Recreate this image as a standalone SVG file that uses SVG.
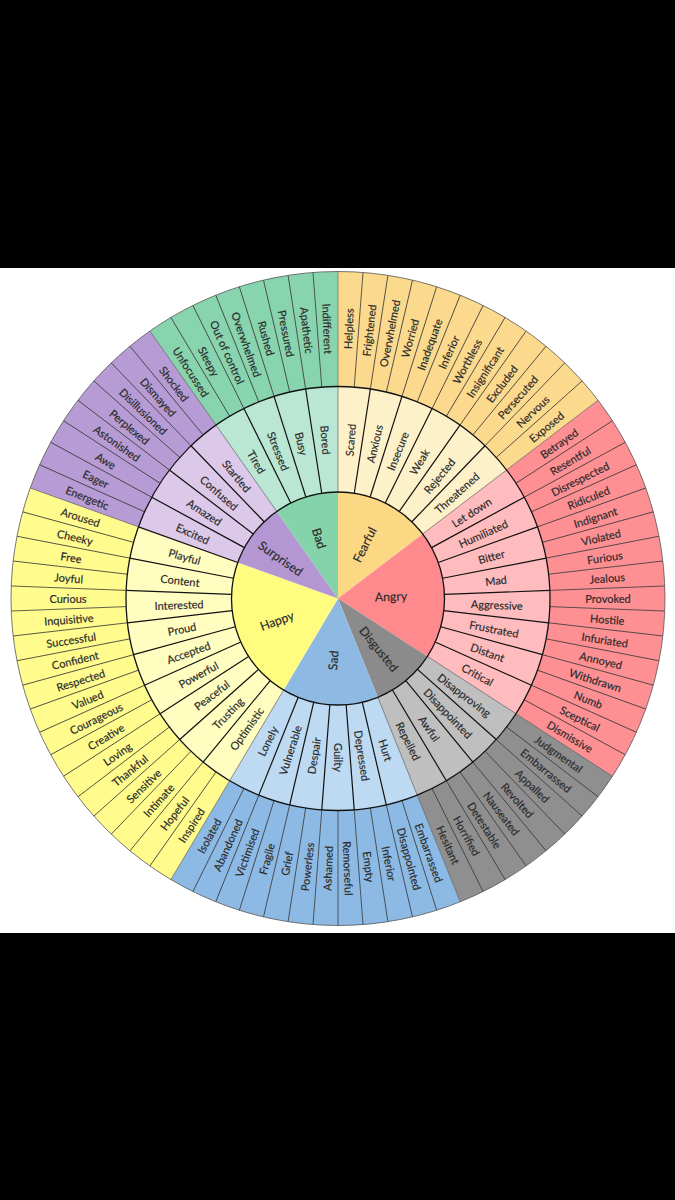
<svg xmlns="http://www.w3.org/2000/svg" width="675" height="1200" viewBox="0 0 675 1200">
<style>
text{font-family:"Lato","Liberation Sans",sans-serif;font-size:11px;fill:#2b2b2b;stroke:#2b2b2b;stroke-width:.18;text-anchor:middle;dominant-baseline:central}
text.h{font-size:12.3px}
.o{stroke:#3c3c3c;stroke-width:.8}
.m{stroke:#111;stroke-width:1.2}
.b{stroke:#555;stroke-width:.6}
</style>
<rect width="675" height="1200" fill="#000"/>
<rect y="268" width="675" height="665" fill="#fff"/>

<g id="fearful">
<path d="M338 386.5L338 271.5A327 327 0 0 1 598.06 400.24L506.6 469.96A212 212 0 0 0 338 386.5Z" fill="#fbd98d"/>
<path d="M338 492L338 386.5A212 212 0 0 1 506.6 469.96L422.7 533.93A106.5 106.5 0 0 0 338 492Z" fill="#fdf1ca"/>
<path d="M338 598.5L338 492A106.5 106.5 0 0 1 422.7 533.93Z" fill="#fcd885"/>
<g transform="translate(338 598.5)">
<text class="h" transform="rotate(26.3)translate(0 -60)rotate(-90)">Fearful</text>
<text transform="rotate(4.39)translate(0 -159)rotate(-90)">Scared</text>
<text transform="rotate(13.171)translate(0 -159)rotate(-90)">Anxious</text>
<text transform="rotate(21.951)translate(0 -159)rotate(-90)">Insecure</text>
<text transform="rotate(30.732)translate(0 -159)rotate(-90)">Weak</text>
<text transform="rotate(39.512)translate(0 -159)rotate(-90)">Rejected</text>
<text transform="rotate(48.293)translate(0 -159)rotate(-90)">Threatened</text>
<text transform="rotate(2.195)translate(0 -270)rotate(-90)">Helpless</text>
<text transform="rotate(6.585)translate(0 -270)rotate(-90)">Frightened</text>
<text transform="rotate(10.976)translate(0 -270)rotate(-90)">Overwhelmed</text>
<text transform="rotate(15.366)translate(0 -270)rotate(-90)">Worried</text>
<text transform="rotate(19.756)translate(0 -270)rotate(-90)">Inadequate</text>
<text transform="rotate(24.146)translate(0 -270)rotate(-90)">Inferior</text>
<text transform="rotate(28.537)translate(0 -270)rotate(-90)">Worthless</text>
<text transform="rotate(32.927)translate(0 -270)rotate(-90)">Insignificant</text>
<text transform="rotate(37.317)translate(0 -270)rotate(-90)">Excluded</text>
<text transform="rotate(41.707)translate(0 -270)rotate(-90)">Persecuted</text>
<text transform="rotate(46.098)translate(0 -270)rotate(-90)">Nervous</text>
<text transform="rotate(50.488)translate(0 -270)rotate(-90)">Exposed</text>
</g>
</g>

<g id="angry">
<path d="M506.6 469.96L598.06 400.24A327 327 0 0 1 612.48 776.22L515.95 713.72A212 212 0 0 0 506.6 469.96Z" fill="#fe8f93"/>
<path d="M422.7 533.93L506.6 469.96A212 212 0 0 1 515.95 713.72L427.4 656.38A106.5 106.5 0 0 0 422.7 533.93Z" fill="#ffbcbf"/>
<path d="M338 598.5L422.7 533.93A106.5 106.5 0 0 1 427.4 656.38Z" fill="#ff8a8e"/>
<g transform="translate(338 598.5)">
<text class="h" transform="rotate(87.8)translate(0 -53)rotate(-90)">Angry</text>
<text transform="rotate(57.073)translate(0 -159)rotate(-90)">Let down</text>
<text transform="rotate(65.854)translate(0 -159)rotate(-90)">Humiliated</text>
<text transform="rotate(74.634)translate(0 -159)rotate(-90)">Bitter</text>
<text transform="rotate(83.415)translate(0 -159)rotate(-90)">Mad</text>
<text transform="rotate(92.195)translate(0 -159)rotate(-90)">Aggressive</text>
<text transform="rotate(100.976)translate(0 -159)rotate(-90)">Frustrated</text>
<text transform="rotate(109.756)translate(0 -159)rotate(-90)">Distant</text>
<text transform="rotate(118.537)translate(0 -159)rotate(-90)">Critical</text>
<text transform="rotate(54.878)translate(0 -270)rotate(-90)">Betrayed</text>
<text transform="rotate(59.268)translate(0 -270)rotate(-90)">Resentful</text>
<text transform="rotate(63.659)translate(0 -270)rotate(-90)">Disrespected</text>
<text transform="rotate(68.049)translate(0 -270)rotate(-90)">Ridiculed</text>
<text transform="rotate(72.439)translate(0 -270)rotate(-90)">Indignant</text>
<text transform="rotate(76.829)translate(0 -270)rotate(-90)">Violated</text>
<text transform="rotate(81.22)translate(0 -270)rotate(-90)">Furious</text>
<text transform="rotate(85.61)translate(0 -270)rotate(-90)">Jealous</text>
<text transform="rotate(90)translate(0 -270)rotate(-90)">Provoked</text>
<text transform="rotate(94.39)translate(0 -270)rotate(-90)">Hostile</text>
<text transform="rotate(98.78)translate(0 -270)rotate(-90)">Infuriated</text>
<text transform="rotate(103.171)translate(0 -270)rotate(-90)">Annoyed</text>
<text transform="rotate(107.561)translate(0 -270)rotate(-90)">Withdrawn</text>
<text transform="rotate(111.951)translate(0 -270)rotate(-90)">Numb</text>
<text transform="rotate(116.341)translate(0 -270)rotate(-90)">Sceptical</text>
<text transform="rotate(120.732)translate(0 -270)rotate(-90)">Dismissive</text>
</g>
</g>

<g id="disgusted">
<path d="M515.95 713.72L612.48 776.22A327 327 0 0 1 460.23 901.79L417.25 795.13A212 212 0 0 0 515.95 713.72Z" fill="#8f8f8f"/>
<path d="M427.4 656.38L515.95 713.72A212 212 0 0 1 417.25 795.13L377.81 697.28A106.5 106.5 0 0 0 427.4 656.38Z" fill="#c0bfbf"/>
<path d="M338 598.5L427.4 656.38A106.5 106.5 0 0 1 377.81 697.28Z" fill="#8b8b8b"/>
<g transform="translate(338 598.5)">
<text class="h" transform="rotate(141)translate(0 -65)rotate(-90)">Disgusted</text>
<text transform="rotate(127.317)translate(0 -159)rotate(-90)">Disapproving</text>
<text transform="rotate(136.098)translate(0 -159)rotate(-90)">Disappointed</text>
<text transform="rotate(144.878)translate(0 -159)rotate(-90)">Awful</text>
<text transform="rotate(153.659)translate(0 -159)rotate(-90)">Repelled</text>
<text transform="rotate(125.122)translate(0 -270)rotate(-90)">Judgmental</text>
<text transform="rotate(129.512)translate(0 -270)rotate(-90)">Embarrassed</text>
<text transform="rotate(133.902)translate(0 -270)rotate(-90)">Appalled</text>
<text transform="rotate(138.293)translate(0 -270)rotate(-90)">Revolted</text>
<text transform="rotate(142.683)translate(0 -270)rotate(-90)">Nauseated</text>
<text transform="rotate(147.073)translate(0 -270)rotate(-90)">Detestable</text>
<text transform="rotate(151.463)translate(0 -270)rotate(-90)">Horrified</text>
<text transform="rotate(155.854)translate(0 -270)rotate(-90)">Hesitant</text>
</g>
</g>

<g id="sad">
<path d="M417.25 795.13L460.23 901.79A327 327 0 0 1 170.9 879.56L229.67 780.71A212 212 0 0 0 417.25 795.13Z" fill="#8dbae4"/>
<path d="M377.81 697.28L417.25 795.13A212 212 0 0 1 229.67 780.71L283.58 690.04A106.5 106.5 0 0 0 377.81 697.28Z" fill="#bedaf2"/>
<path d="M338 598.5L377.81 697.28A106.5 106.5 0 0 1 283.58 690.04Z" fill="#8db9e3"/>
<g transform="translate(338 598.5)">
<text class="h" transform="rotate(184.4)translate(0 -62)rotate(90)">Sad</text>
<text transform="rotate(162.439)translate(0 -159)rotate(-90)">Hurt</text>
<text transform="rotate(171.22)translate(0 -159)rotate(-90)">Depressed</text>
<text transform="rotate(180)translate(0 -159)rotate(-90)">Guilty</text>
<text transform="rotate(188.78)translate(0 -159)rotate(90)">Despair</text>
<text transform="rotate(197.561)translate(0 -159)rotate(90)">Vulnerable</text>
<text transform="rotate(206.341)translate(0 -159)rotate(90)">Lonely</text>
<text transform="rotate(160.244)translate(0 -270)rotate(-90)">Embarrassed</text>
<text transform="rotate(164.634)translate(0 -270)rotate(-90)">Disappointed</text>
<text transform="rotate(169.024)translate(0 -270)rotate(-90)">Inferior</text>
<text transform="rotate(173.415)translate(0 -270)rotate(-90)">Empty</text>
<text transform="rotate(177.805)translate(0 -270)rotate(-90)">Remorseful</text>
<text transform="rotate(182.195)translate(0 -270)rotate(90)">Ashamed</text>
<text transform="rotate(186.585)translate(0 -270)rotate(90)">Powerless</text>
<text transform="rotate(190.976)translate(0 -270)rotate(90)">Grief</text>
<text transform="rotate(195.366)translate(0 -270)rotate(90)">Fragile</text>
<text transform="rotate(199.756)translate(0 -270)rotate(90)">Victimised</text>
<text transform="rotate(204.146)translate(0 -270)rotate(90)">Abandoned</text>
<text transform="rotate(208.537)translate(0 -270)rotate(90)">Isolated</text>
</g>
</g>

<g id="happy">
<path d="M229.67 780.71L170.9 879.56A327 327 0 0 1 30.24 487.97L138.47 526.84A212 212 0 0 0 229.67 780.71Z" fill="#fffb8c"/>
<path d="M283.58 690.04L229.67 780.71A212 212 0 0 1 138.47 526.84L237.76 562.5A106.5 106.5 0 0 0 283.58 690.04Z" fill="#fffdc0"/>
<path d="M338 598.5L283.58 690.04A106.5 106.5 0 0 1 237.76 562.5Z" fill="#fffc80"/>
<g transform="translate(338 598.5)">
<text class="h" transform="rotate(250)translate(0 -65)rotate(90)">Happy</text>
<text transform="rotate(215.122)translate(0 -159)rotate(90)">Optimistic</text>
<text transform="rotate(223.902)translate(0 -159)rotate(90)">Trusting</text>
<text transform="rotate(232.683)translate(0 -159)rotate(90)">Peaceful</text>
<text transform="rotate(241.463)translate(0 -159)rotate(90)">Powerful</text>
<text transform="rotate(250.244)translate(0 -159)rotate(90)">Accepted</text>
<text transform="rotate(259.024)translate(0 -159)rotate(90)">Proud</text>
<text transform="rotate(267.805)translate(0 -159)rotate(90)">Interested</text>
<text transform="rotate(276.585)translate(0 -159)rotate(90)">Content</text>
<text transform="rotate(285.366)translate(0 -159)rotate(90)">Playful</text>
<text transform="rotate(212.927)translate(0 -270)rotate(90)">Inspired</text>
<text transform="rotate(217.317)translate(0 -270)rotate(90)">Hopeful</text>
<text transform="rotate(221.707)translate(0 -270)rotate(90)">Intimate</text>
<text transform="rotate(226.098)translate(0 -270)rotate(90)">Sensitive</text>
<text transform="rotate(230.488)translate(0 -270)rotate(90)">Thankful</text>
<text transform="rotate(234.878)translate(0 -270)rotate(90)">Loving</text>
<text transform="rotate(239.268)translate(0 -270)rotate(90)">Creative</text>
<text transform="rotate(243.659)translate(0 -270)rotate(90)">Courageous</text>
<text transform="rotate(248.049)translate(0 -270)rotate(90)">Valued</text>
<text transform="rotate(252.439)translate(0 -270)rotate(90)">Respected</text>
<text transform="rotate(256.829)translate(0 -270)rotate(90)">Confident</text>
<text transform="rotate(261.22)translate(0 -270)rotate(90)">Successful</text>
<text transform="rotate(265.61)translate(0 -270)rotate(90)">Inquisitive</text>
<text transform="rotate(270)translate(0 -270)rotate(90)">Curious</text>
<text transform="rotate(274.39)translate(0 -270)rotate(90)">Joyful</text>
<text transform="rotate(278.78)translate(0 -270)rotate(90)">Free</text>
<text transform="rotate(283.171)translate(0 -270)rotate(90)">Cheeky</text>
<text transform="rotate(287.561)translate(0 -270)rotate(90)">Aroused</text>
</g>
</g>

<g id="surprised">
<path d="M138.47 526.84L30.24 487.97A327 327 0 0 1 149.88 331.01L216.04 425.08A212 212 0 0 0 138.47 526.84Z" fill="#b69bd4"/>
<path d="M237.76 562.5L138.47 526.84A212 212 0 0 1 216.04 425.08L276.73 511.38A106.5 106.5 0 0 0 237.76 562.5Z" fill="#dcc9e9"/>
<path d="M338 598.5L237.76 562.5A106.5 106.5 0 0 1 276.73 511.38Z" fill="#b497d2"/>
<g transform="translate(338 598.5)">
<text class="h" transform="rotate(305)translate(0 -70)rotate(90)">Surprised</text>
<text transform="rotate(294.146)translate(0 -159)rotate(90)">Excited</text>
<text transform="rotate(302.927)translate(0 -159)rotate(90)">Amazed</text>
<text transform="rotate(311.707)translate(0 -159)rotate(90)">Confused</text>
<text transform="rotate(320.488)translate(0 -159)rotate(90)">Startled</text>
<text transform="rotate(291.951)translate(0 -270)rotate(90)">Energetic</text>
<text transform="rotate(296.341)translate(0 -270)rotate(90)">Eager</text>
<text transform="rotate(300.732)translate(0 -270)rotate(90)">Awe</text>
<text transform="rotate(305.122)translate(0 -270)rotate(90)">Astonished</text>
<text transform="rotate(309.512)translate(0 -270)rotate(90)">Perplexed</text>
<text transform="rotate(313.902)translate(0 -270)rotate(90)">Disillusioned</text>
<text transform="rotate(318.293)translate(0 -270)rotate(90)">Dismayed</text>
<text transform="rotate(322.683)translate(0 -270)rotate(90)">Shocked</text>
</g>
</g>

<g id="bad">
<path d="M216.04 425.08L149.88 331.01A327 327 0 0 1 338 271.5L338 386.5A212 212 0 0 0 216.04 425.08Z" fill="#88d4ae"/>
<path d="M276.73 511.38L216.04 425.08A212 212 0 0 1 338 386.5L338 492A106.5 106.5 0 0 0 276.73 511.38Z" fill="#bae7d4"/>
<path d="M338 598.5L276.73 511.38A106.5 106.5 0 0 1 338 492Z" fill="#85d3aa"/>
<g transform="translate(338 598.5)">
<text class="h" transform="rotate(342.7)translate(0 -63)rotate(90)">Bad</text>
<text transform="rotate(329.268)translate(0 -159)rotate(90)">Tired</text>
<text transform="rotate(338.049)translate(0 -159)rotate(90)">Stressed</text>
<text transform="rotate(346.829)translate(0 -159)rotate(90)">Busy</text>
<text transform="rotate(355.61)translate(0 -159)rotate(90)">Bored</text>
<text transform="rotate(327.073)translate(0 -270)rotate(90)">Unfocussed</text>
<text transform="rotate(331.463)translate(0 -270)rotate(90)">Sleepy</text>
<text transform="rotate(335.854)translate(0 -270)rotate(90)">Out of control</text>
<text transform="rotate(340.244)translate(0 -270)rotate(90)">Overwhelmed</text>
<text transform="rotate(344.634)translate(0 -270)rotate(90)">Rushed</text>
<text transform="rotate(349.024)translate(0 -270)rotate(90)">Pressured</text>
<text transform="rotate(353.415)translate(0 -270)rotate(90)">Apathetic</text>
<text transform="rotate(357.805)translate(0 -270)rotate(90)">Indifferent</text>
</g>
</g>

<g id="connectors" transform="translate(338 598.5)" fill="none">
<g class="o">
<line y1="-212" y2="-327" transform="rotate(4.39)"/>
<line y1="-212" y2="-327" transform="rotate(8.78)"/>
<line y1="-212" y2="-327" transform="rotate(13.171)"/>
<line y1="-212" y2="-327" transform="rotate(17.561)"/>
<line y1="-212" y2="-327" transform="rotate(21.951)"/>
<line y1="-212" y2="-327" transform="rotate(26.341)"/>
<line y1="-212" y2="-327" transform="rotate(30.732)"/>
<line y1="-212" y2="-327" transform="rotate(35.122)"/>
<line y1="-212" y2="-327" transform="rotate(39.512)"/>
<line y1="-212" y2="-327" transform="rotate(43.902)"/>
<line y1="-212" y2="-327" transform="rotate(48.293)"/>
<line y1="-212" y2="-327" transform="rotate(57.073)"/>
<line y1="-212" y2="-327" transform="rotate(61.463)"/>
<line y1="-212" y2="-327" transform="rotate(65.854)"/>
<line y1="-212" y2="-327" transform="rotate(70.244)"/>
<line y1="-212" y2="-327" transform="rotate(74.634)"/>
<line y1="-212" y2="-327" transform="rotate(79.024)"/>
<line y1="-212" y2="-327" transform="rotate(83.415)"/>
<line y1="-212" y2="-327" transform="rotate(87.805)"/>
<line y1="-212" y2="-327" transform="rotate(92.195)"/>
<line y1="-212" y2="-327" transform="rotate(96.585)"/>
<line y1="-212" y2="-327" transform="rotate(100.976)"/>
<line y1="-212" y2="-327" transform="rotate(105.366)"/>
<line y1="-212" y2="-327" transform="rotate(109.756)"/>
<line y1="-212" y2="-327" transform="rotate(114.146)"/>
<line y1="-212" y2="-327" transform="rotate(118.537)"/>
<line y1="-212" y2="-327" transform="rotate(127.317)"/>
<line y1="-212" y2="-327" transform="rotate(131.707)"/>
<line y1="-212" y2="-327" transform="rotate(136.098)"/>
<line y1="-212" y2="-327" transform="rotate(140.488)"/>
<line y1="-212" y2="-327" transform="rotate(144.878)"/>
<line y1="-212" y2="-327" transform="rotate(149.268)"/>
<line y1="-212" y2="-327" transform="rotate(153.659)"/>
<line y1="-212" y2="-327" transform="rotate(162.439)"/>
<line y1="-212" y2="-327" transform="rotate(166.829)"/>
<line y1="-212" y2="-327" transform="rotate(171.22)"/>
<line y1="-212" y2="-327" transform="rotate(175.61)"/>
<line y1="-212" y2="-327" transform="rotate(180)"/>
<line y1="-212" y2="-327" transform="rotate(184.39)"/>
<line y1="-212" y2="-327" transform="rotate(188.78)"/>
<line y1="-212" y2="-327" transform="rotate(193.171)"/>
<line y1="-212" y2="-327" transform="rotate(197.561)"/>
<line y1="-212" y2="-327" transform="rotate(201.951)"/>
<line y1="-212" y2="-327" transform="rotate(206.341)"/>
<line y1="-212" y2="-327" transform="rotate(215.122)"/>
<line y1="-212" y2="-327" transform="rotate(219.512)"/>
<line y1="-212" y2="-327" transform="rotate(223.902)"/>
<line y1="-212" y2="-327" transform="rotate(228.293)"/>
<line y1="-212" y2="-327" transform="rotate(232.683)"/>
<line y1="-212" y2="-327" transform="rotate(237.073)"/>
<line y1="-212" y2="-327" transform="rotate(241.463)"/>
<line y1="-212" y2="-327" transform="rotate(245.854)"/>
<line y1="-212" y2="-327" transform="rotate(250.244)"/>
<line y1="-212" y2="-327" transform="rotate(254.634)"/>
<line y1="-212" y2="-327" transform="rotate(259.024)"/>
<line y1="-212" y2="-327" transform="rotate(263.415)"/>
<line y1="-212" y2="-327" transform="rotate(267.805)"/>
<line y1="-212" y2="-327" transform="rotate(272.195)"/>
<line y1="-212" y2="-327" transform="rotate(276.585)"/>
<line y1="-212" y2="-327" transform="rotate(280.976)"/>
<line y1="-212" y2="-327" transform="rotate(285.366)"/>
<line y1="-212" y2="-327" transform="rotate(294.146)"/>
<line y1="-212" y2="-327" transform="rotate(298.537)"/>
<line y1="-212" y2="-327" transform="rotate(302.927)"/>
<line y1="-212" y2="-327" transform="rotate(307.317)"/>
<line y1="-212" y2="-327" transform="rotate(311.707)"/>
<line y1="-212" y2="-327" transform="rotate(316.098)"/>
<line y1="-212" y2="-327" transform="rotate(320.488)"/>
<line y1="-212" y2="-327" transform="rotate(329.268)"/>
<line y1="-212" y2="-327" transform="rotate(333.659)"/>
<line y1="-212" y2="-327" transform="rotate(338.049)"/>
<line y1="-212" y2="-327" transform="rotate(342.439)"/>
<line y1="-212" y2="-327" transform="rotate(346.829)"/>
<line y1="-212" y2="-327" transform="rotate(351.22)"/>
<line y1="-212" y2="-327" transform="rotate(355.61)"/>
</g>
<g class="b">
<line y1="-106.5" y2="-327" transform="rotate(0)"/>
<line y1="-106.5" y2="-327" transform="rotate(52.683)"/>
<line y1="-106.5" y2="-327" transform="rotate(122.927)"/>
<line y1="-106.5" y2="-327" transform="rotate(158.049)"/>
<line y1="-106.5" y2="-327" transform="rotate(210.732)"/>
<line y1="-212" y2="-327" transform="rotate(289.756)"/>
<line y1="-106.5" y2="-327" transform="rotate(324.878)"/>
</g>
<g class="m">
<line y1="-106.5" y2="-212" transform="rotate(289.756)"/>
<line y1="-106.5" y2="-212" transform="rotate(8.78)"/>
<line y1="-106.5" y2="-212" transform="rotate(17.561)"/>
<line y1="-106.5" y2="-212" transform="rotate(26.341)"/>
<line y1="-106.5" y2="-212" transform="rotate(35.122)"/>
<line y1="-106.5" y2="-212" transform="rotate(43.902)"/>
<line y1="-106.5" y2="-212" transform="rotate(61.463)"/>
<line y1="-106.5" y2="-212" transform="rotate(70.244)"/>
<line y1="-106.5" y2="-212" transform="rotate(79.024)"/>
<line y1="-106.5" y2="-212" transform="rotate(87.805)"/>
<line y1="-106.5" y2="-212" transform="rotate(96.585)"/>
<line y1="-106.5" y2="-212" transform="rotate(105.366)"/>
<line y1="-106.5" y2="-212" transform="rotate(114.146)"/>
<line y1="-106.5" y2="-212" transform="rotate(131.707)"/>
<line y1="-106.5" y2="-212" transform="rotate(140.488)"/>
<line y1="-106.5" y2="-212" transform="rotate(149.268)"/>
<line y1="-106.5" y2="-212" transform="rotate(166.829)"/>
<line y1="-106.5" y2="-212" transform="rotate(175.61)"/>
<line y1="-106.5" y2="-212" transform="rotate(184.39)"/>
<line y1="-106.5" y2="-212" transform="rotate(193.171)"/>
<line y1="-106.5" y2="-212" transform="rotate(201.951)"/>
<line y1="-106.5" y2="-212" transform="rotate(219.512)"/>
<line y1="-106.5" y2="-212" transform="rotate(228.293)"/>
<line y1="-106.5" y2="-212" transform="rotate(237.073)"/>
<line y1="-106.5" y2="-212" transform="rotate(245.854)"/>
<line y1="-106.5" y2="-212" transform="rotate(254.634)"/>
<line y1="-106.5" y2="-212" transform="rotate(263.415)"/>
<line y1="-106.5" y2="-212" transform="rotate(272.195)"/>
<line y1="-106.5" y2="-212" transform="rotate(280.976)"/>
<line y1="-106.5" y2="-212" transform="rotate(298.537)"/>
<line y1="-106.5" y2="-212" transform="rotate(307.317)"/>
<line y1="-106.5" y2="-212" transform="rotate(316.098)"/>
<line y1="-106.5" y2="-212" transform="rotate(333.659)"/>
<line y1="-106.5" y2="-212" transform="rotate(342.439)"/>
<line y1="-106.5" y2="-212" transform="rotate(351.22)"/>
</g>
<circle r="327" stroke="#555" stroke-width=".8"/>
<circle r="212" stroke="#111" stroke-width="1.3"/>
<circle r="106.5" stroke="#111" stroke-width="1.3"/>
</g>
</svg>
